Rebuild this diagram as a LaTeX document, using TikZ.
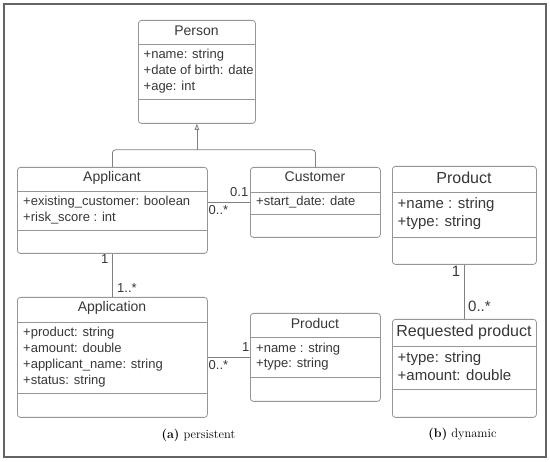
\documentclass[tikz,border=0pt]{standalone}
\usepackage{fontspec}
\setsansfont{Liberation Sans}
\usetikzlibrary{arrows.meta,calc}
\definecolor{txt}{RGB}{55,55,55}
\definecolor{edge}{RGB}{150,150,150}
\definecolor{frame}{RGB}{100,100,100}
\begin{document}
\begin{tikzpicture}[x=1pt,y=-1pt,
  cls/.style={draw=edge,line width=0.8pt,rounded corners=3pt,anchor=north west,inner sep=0pt},
  div/.style={draw=edge,line width=0.8pt},
  conn/.style={draw=edge!85!black,line width=0.8pt},
  ttl/.style={anchor=base,inner sep=0pt,text=txt,font=\sffamily\fontsize{14}{16}\selectfont},
  att/.style={anchor=base west,inner sep=0pt,text=txt,font=\sffamily\fontsize{13}{16}\selectfont},
  ttlb/.style={anchor=base,inner sep=0pt,text=txt,font=\sffamily\fontsize{16}{18}\selectfont},
  attb/.style={anchor=base west,inner sep=0pt,text=txt,font=\sffamily\fontsize{15}{18}\selectfont},
  mul/.style={inner sep=0pt,text=txt,font=\sffamily\fontsize{13}{15}\selectfont},
  mulb/.style={inner sep=0pt,text=txt,font=\sffamily\fontsize{15}{17}\selectfont},
  captxt/.style={anchor=base,inner sep=0pt,font=\fontsize{12.5}{14}\selectfont}]
\useasboundingbox (0,0) rectangle (550,462);
\draw[frame,line width=1.5pt] (4,4) rectangle (546,457);

% Person
\node[cls,minimum width=117pt,minimum height=103pt] (person) at (138,20) {};
\draw[div] (138,44) -- (255,44);
\draw[div] (138,99) -- (255,99);
\node[ttl] (personT) at (196.5,35.5) {Person};
\node[att] (p1) at (143.5,58.5) {+name: string};
\node[att] (p2) at (143.5,74.5) {+date of birth: date};
\node[att] (p3) at (143.5,90.5) {+age: int};

% Applicant
\node[cls,minimum width=190pt,minimum height=86pt] (applicant) at (17,167) {};
\draw[div] (17,191) -- (207,191);
\draw[div] (17,230) -- (207,230);
\node[ttl] (applicantT) at (112,182) {Applicant};
\node[att] (a1) at (23,206) {+existing\_customer: boolean};
\node[att] (a2) at (23,221.5) {+risk\_score : int};

% Customer
\node[cls,minimum width=130pt,minimum height=70pt] (customer) at (250,167) {};
\draw[div] (250,192) -- (380,192);
\draw[div] (250,214) -- (380,214);
\node[ttl] (customerT) at (315,182) {Customer};
\node[att] (c1) at (256,206) {+start\_date: date};

% Application
\node[cls,minimum width=190pt,minimum height=120pt] (application) at (17,297) {};
\draw[div] (17,322) -- (207,322);
\draw[div] (17,393) -- (207,393);
\node[ttl] (applicationT) at (112,312) {Application};
\node[att] (ap1) at (23,336.5) {+product: string};
\node[att] (ap2) at (23,352.5) {+amount: double};
\node[att] (ap3) at (23,368.5) {+applicant\_name: string};
\node[att] (ap4) at (23,384.5) {+status: string};

% Product (a)
\node[cls,minimum width=130pt,minimum height=88pt] (product) at (250,313) {};
\draw[div] (250,337) -- (380,337);
\draw[div] (250,377) -- (380,377);
\node[ttl] (productT) at (315,328.5) {Product};
\node[att] (pr1) at (256,352.5) {+name : string};
\node[att] (pr2) at (256,368) {+type: string};

% Product (b)
\node[cls,minimum width=144pt,minimum height=98pt] (productb) at (392,166) {};
\draw[div] (392,192) -- (536,192);
\draw[div] (392,237) -- (536,237);
\node[ttlb] (productbT) at (464,183.5) {Product};
\node[attb] (pb1) at (397.5,209) {+name : string};
\node[attb] (pb2) at (397.5,227) {+type: string};

% Requested product
\node[cls,minimum width=144pt,minimum height=98pt] (requested) at (392,319) {};
\draw[div] (392,346) -- (536,346);
\draw[div] (392,389) -- (536,389);
\node[ttlb] (requestedT) at (464,337) {Requested product};
\node[attb] (r1) at (397.5,363) {+type: string};
\node[attb] (r2) at (397.5,380.5) {+amount: double};

% generalization
\coordinate (gen) at ($(person.south)+(0,26)$);
\draw[conn,rounded corners=3pt] (applicant.north) |- (gen) -| (customer.north);
\draw[conn,-{Triangle[open,length=6pt,width=4.5pt]}] (gen) -- (person.south);

% associations
\draw[conn] (customer.west) -- (customer.west -| applicant.east);
\node[mul,anchor=base east] (m1) at (248.5,196.5) {0.1};
\node[mul,anchor=base west] (m2) at (208.5,214.5) {0..*};

\draw[conn] (applicant.south) -- (application.north);
\node[mul,anchor=base east] (m3) at (108.5,264) {1};
\node[mul,anchor=base west] (m4) at (117,292.5) {1..*};

\draw[conn] (product.west) -- (product.west -| application.east);
\node[mul,anchor=base east] (m5) at (249.5,351.5) {1};
\node[mul,anchor=base west] (m6) at (208.5,370) {0..*};

\draw[conn] (productb.south) -- (requested.north);
\node[mulb,anchor=base east] (m7) at (460.5,276.5) {1};
\node[mulb,anchor=base west] (m8) at (468,311.5) {0..*};

% captions
\node[captxt] (capa) at (198.5,439) {\textbf{(a)} persistent};
\node[captxt] (capb) at (462.5,437.5) {\textbf{(b)} dynamic};
\end{tikzpicture}
\end{document}
